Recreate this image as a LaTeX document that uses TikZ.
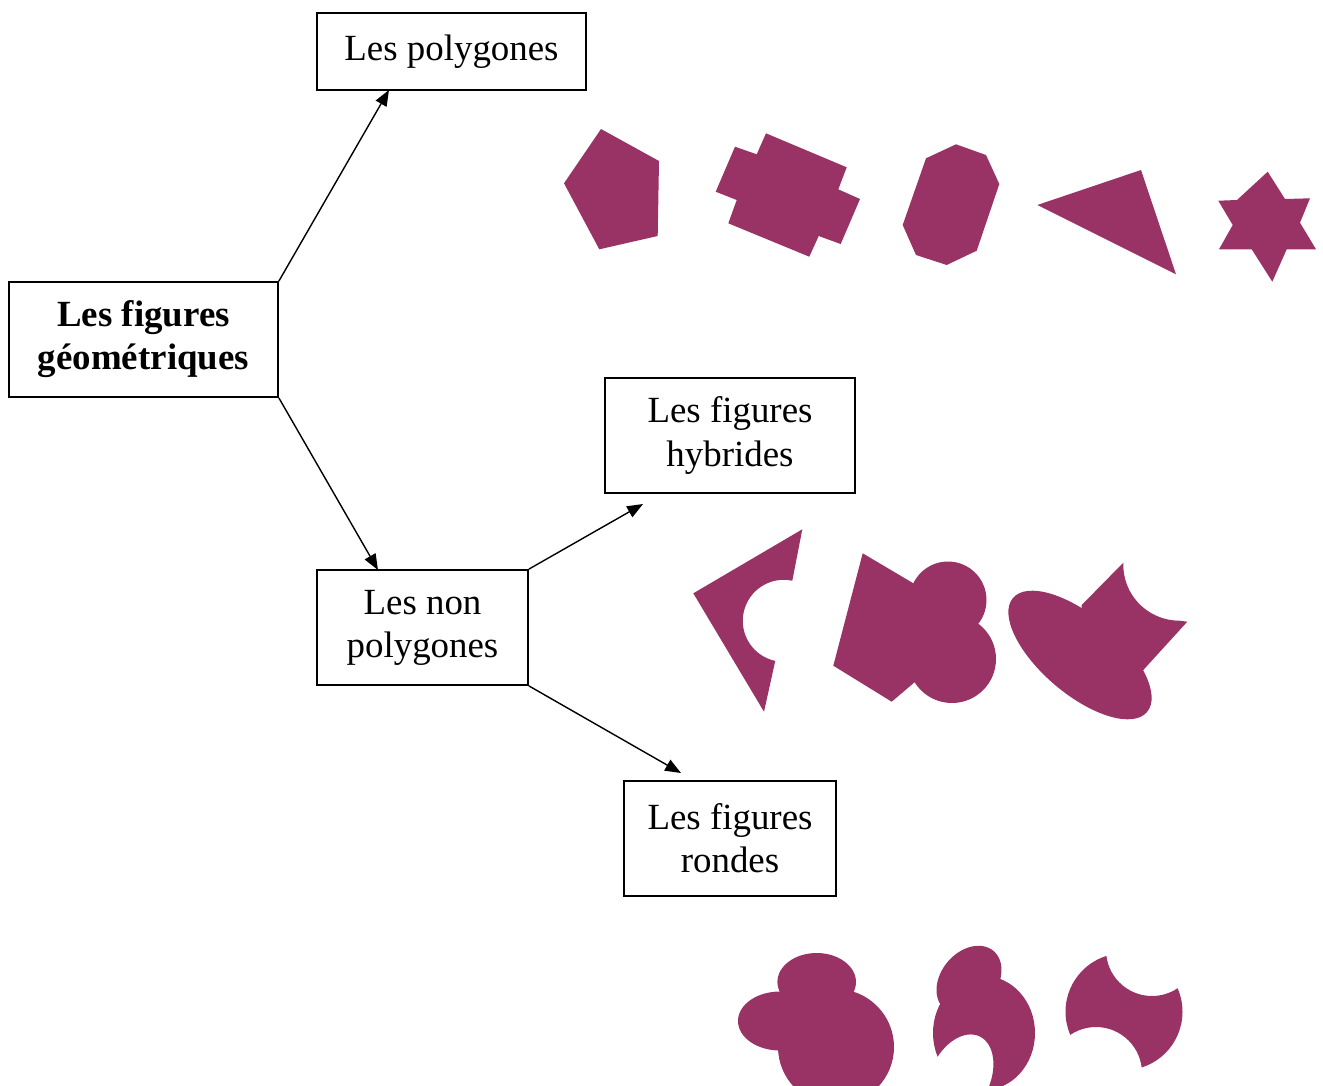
\documentclass[tikz,border=0pt]{standalone}
\usepackage{fontspec}
\setmainfont{Liberation Serif}
\usetikzlibrary{arrows.meta}
\definecolor{prune}{RGB}{153,51,102}

\begin{document}
\begin{tikzpicture}[x=0.02cm, y=-0.02cm,
        boite/.style={draw, line width=1pt, align=center, inner sep=0pt, minimum height=2.3cm,
            font=\fontsize{21}{24.5}\selectfont},
        gras/.style={font=\fontsize{21}{24.5}\selectfont\bfseries},
        fleche/.style={line width=0.8pt, -{Triangle[length=9pt, width=7pt]}},
        forme/.style={fill=prune}]
    \useasboundingbox (0,0) rectangle (1323,1086);
    \clip (0,0) rectangle (1323,1086);

    \node[boite, gras, minimum width=5.38cm] at (143.5,339.5) (geo) {Les figures\\géométriques};
    \node[boite, minimum width=5.38cm, minimum height=1.54cm] at (451.5,51.5) (poly) {Les polygones};
    \node[boite, minimum width=4.22cm] at (422.5,627.5) (nonpoly) {Les non\\polygones};
    \node[boite, minimum width=5cm] at (730,435.5) (hyb) {Les figures\\hybrides};
    \node[boite, minimum width=4.24cm] at (730,838.5) (ronde) {Les figures\\rondes};

    \coordinate (polyin) at (389,90);
    \coordinate (nonpolyin) at (378,570);
    \coordinate (hybin) at (643,504);
    \coordinate (rondein) at (681,773);

    \draw[fleche] (geo.north east) -- (polyin);
    \draw[fleche] (geo.south east) -- (nonpolyin);
    \draw[fleche] (nonpoly.north east) -- (hybin);
    \draw[fleche] (nonpoly.south east) -- (rondein);

    % polygones
    \fill[forme] (601,129) -- (659,161) -- (657.7,236) -- (599.3,249.3) -- (564,183.3) -- cycle;
    \fill[forme] (766,133.3) -- (846.7,167.3) -- (838.3,189.3) -- (860,199) -- (840.7,244) -- (818.7,236)
        -- (809.3,256.7) -- (728.3,223.3) -- (736.7,200) -- (715.7,191.7) -- (735,146.7) -- (756.7,154.3) -- cycle;
    \fill[forme] (956,144.3) -- (986,155) -- (999.3,184) -- (976.7,250.7) -- (946.7,265) -- (916,255)
        -- (902.7,225) -- (926,158.3) -- cycle;
    \fill[forme] (1037.3,205) -- (1141,170) -- (1176,274.3) -- cycle;
    \fill[forme] (1267.7,171.7) -- (1285,199) -- (1310,198.3) -- (1300,222.7) -- (1316,249.3) -- (1286.7,249.3)
        -- (1272.3,281.7) -- (1251.7,249.3) -- (1219,249.3) -- (1232.7,225) -- (1218.3,200.7) -- (1237,200) -- cycle;

    % hybrides
    \fill[forme] (802.3,529.3) -- (792.3,580.7) arc[start angle=-78, end angle=-258, radius=41]
        -- (764,711.7) -- (693.3,593.3) -- cycle;
    \fill[forme] (862.7,553.3) -- (937,597.3) -- (952,650) -- (928.2,670.7) -- (891.7,701.7) -- (833.3,665.7) -- cycle;
    \fill[forme] (948,600) circle[radius=38.5];
    \fill[forme] (952,659) circle[radius=44];
    \fill[forme, rotate around={-40.4:(1080,655)}] (1080,655) ellipse[x radius=88, y radius=39];
    \fill[forme] (1081.7,605) -- (1123.3,562.7) arc[start angle=182, end angle=90, radius=56]
        -- (1187.3,621.7) -- (1143.3,670) -- (1080,655) -- cycle;

    % rondes
    \fill[forme] (816.7,982) ellipse[x radius=39.3, y radius=29];
    \fill[forme] (780,1021) ellipse[x radius=42, y radius=29.5];
    \fill[forme] (836,1047) circle[radius=58];

    \fill[forme, rotate around={50:(969,980)}] (969,980) ellipse[x radius=38, y radius=28];
    \begin{scope}
        \clip (984,1033) ellipse[x radius=51, y radius=57];
        \fill[forme, even odd rule] (920,970) rectangle (1045,1095)
            {[rotate around={-25:(960,1078)}] (960,1078) ellipse[x radius=30, y radius=46]};
    \end{scope}

    \begin{scope}
        \clip (1124,1011.7) circle[radius=58.5];
        \fill[forme, even odd rule] (1060,948) rectangle (1188,1076)
            (1152,950) circle[radius=46] (1096,1073) circle[radius=46];
    \end{scope}
\end{tikzpicture}
\end{document}
